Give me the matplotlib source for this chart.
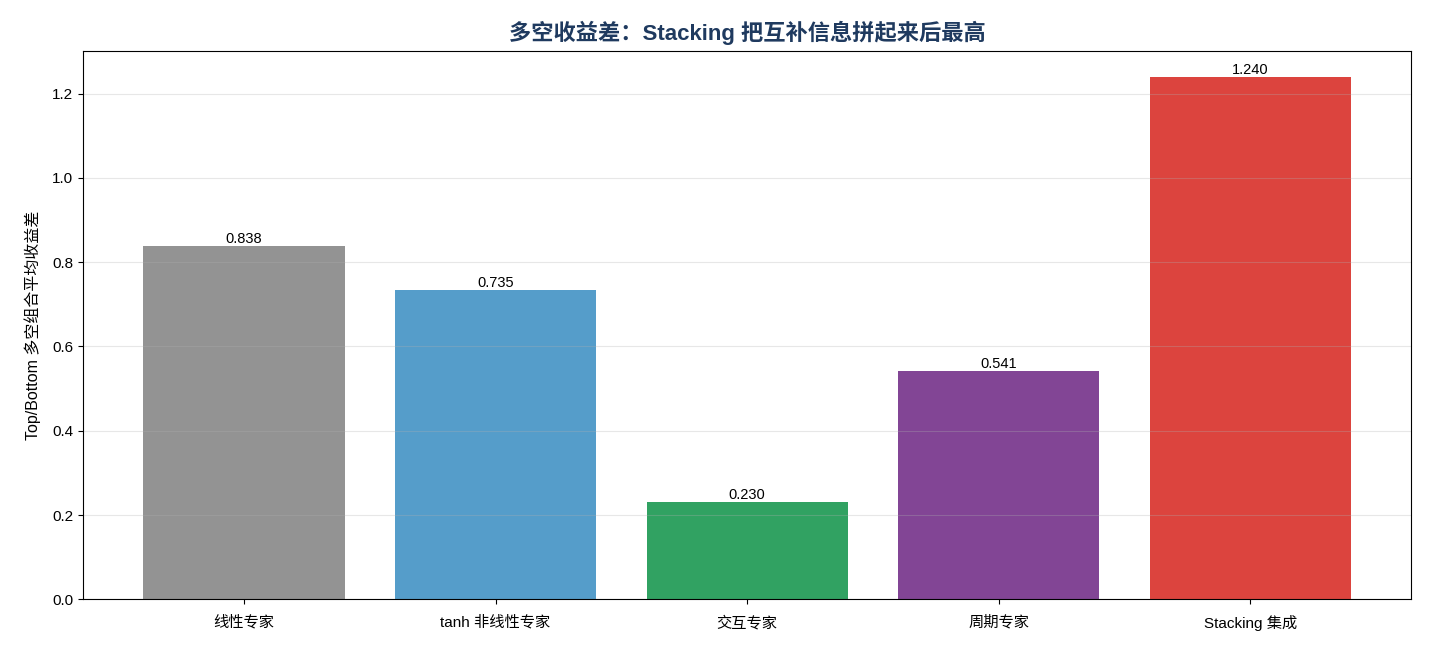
import matplotlib
matplotlib.use('Agg')
import matplotlib.pyplot as plt

plt.rcParams['font.family'] = ['Liberation Sans', 'Noto Sans CJK SC', 'DejaVu Sans']
plt.rcParams['axes.unicode_minus'] = False

labels = ['线性专家', 'tanh 非线性专家', '交互专家', '周期专家', 'Stacking 集成']
values = [0.838, 0.735, 0.230, 0.541, 1.240]
colors = ['#808080', '#378cc1', '#0d9247', '#6c2483', '#d6231c']


def main():
    fig, ax = plt.subplots(figsize=(14.3, 6.5), dpi=100)
    x = range(len(labels))
    bars = ax.bar(x, values, color=colors, alpha=0.85, width=0.8)
    for b, v in zip(bars, values):
        ax.text(b.get_x() + b.get_width() / 2, v, f'{v:.3f}',
                ha='center', va='bottom', fontsize=10.5)
    ax.set_xticks(list(x))
    ax.set_xticklabels(labels)
    ax.set_ylabel('Top/Bottom 多空组合平均收益差', fontsize=11.5, labelpad=8)
    ax.set_title('多空收益差：Stacking 把互补信息拼起来后最高',
                 fontsize=16, fontweight='bold', color='#1f3a5f', pad=8)
    ax.set_ylim(0, 1.302)
    ax.grid(axis='y', alpha=0.3)
    ax.tick_params(labelsize=11)
    ax.tick_params(axis='x', pad=8)
    fig.subplots_adjust(left=0.058, right=0.987, top=0.922, bottom=0.078)
    fig.savefig('out.png')


if __name__ == '__main__':
    main()
